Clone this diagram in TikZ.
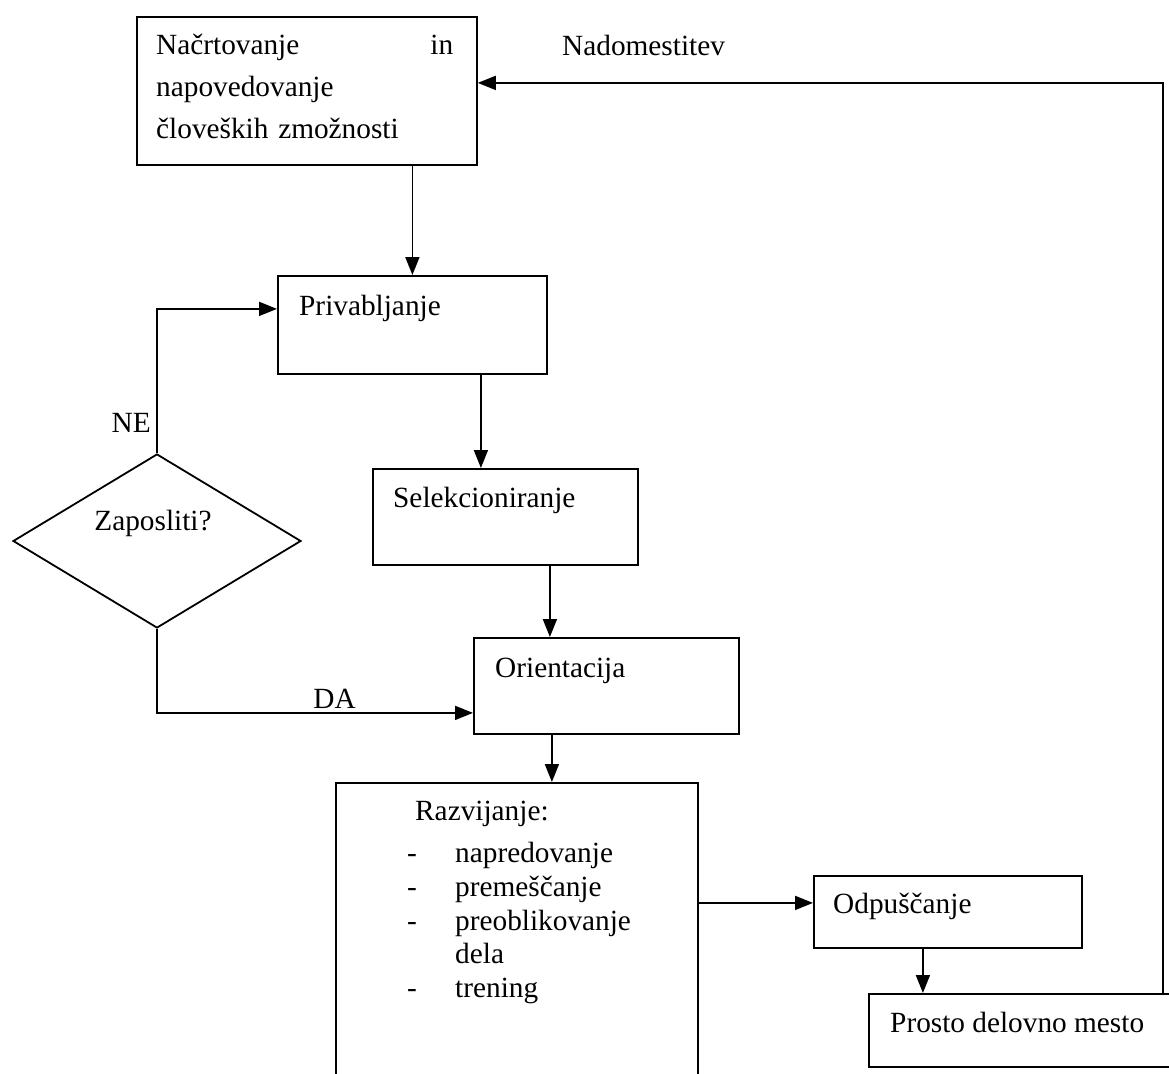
\documentclass[tikz,border=0pt]{standalone}
\usepackage{fontspec}
\setmainfont{Liberation Serif}
\usetikzlibrary{arrows.meta}
\usetikzlibrary{shapes.geometric}
\tikzset{box/.style = {draw, line width = 1.8pt, anchor = north west, inner sep = 0}}
\tikzset{txt/.style = {anchor = base west, inner sep = 0}}
\tikzset{arr/.style = {line width = 1.8pt, -{Triangle[length = 18pt, width = 14pt]}}}

\begin{document}
\begin{tikzpicture}[x = 1pt, y = -1pt, font = \fontsize{29.3}{42}\selectfont]

      \useasboundingbox (0, 0) rectangle (1169, 1073);
      \clip (0, 0) rectangle (1169, 1073);

      % boxes
      \node [box, minimum width = 340, minimum height = 148] (plan) at (136, 16) {};
      \node [box, minimum width = 269, minimum height = 98] (priv) at (277, 275) {};
      \node [box, minimum width = 265, minimum height = 96] (sel) at (372, 468) {};
      \node [box, minimum width = 265, minimum height = 96] (orient) at (473, 637) {};
      \node [box, minimum width = 362, minimum height = 330] (razv) at (335, 782) {};
      \node [box, minimum width = 268, minimum height = 72] (odp) at (813, 875) {};
      \node [box, minimum width = 304, minimum height = 73] (prosto) at (868, 993) {};
      \node [draw, diamond, aspect = 1.655, minimum width = 288, minimum height = 174,
             inner sep = 0, line width = 1.8pt] (hire) at (157, 541) {};

      % texts
      \node [txt, text width = 297, align = left] (plantext) at (156, 55)
            {Načrtovanje\hfill in\\napovedovanje\\človeških zmožnosti};
      \node [txt] (privtext) at (299, 315) {Privabljanje};
      \node [txt] (seltext) at (393, 507) {Selekcioniranje};
      \node [txt] (orienttext) at (495, 677) {Orientacija};
      \node [txt] (razvtext) at (415, 820) {Razvijanje:};
      \node [txt] (odptext) at (833, 913) {Odpuščanje};
      \node [txt] (prostotext) at (890, 1032) {Prosto delovno mesto};
      \node [anchor = base, inner sep = 0] (hiretext) at (153, 530) {Zaposliti?};
      \foreach \yy [count = \i] in {862, 896, 930, 997}
        \node [txt] (dash\i) at (407, \yy) {-};
      \foreach \yy/\item [count = \i] in {862/napredovanje, 896/premeščanje,
                                          930/preoblikovanje, 963/dela, 997/trening}
        \node [txt] (item\i) at (455, \yy) {\item};

      % connectors
      \draw [arr] (priv.north |- plan.south) -- (priv.north);
      \draw [arr] ([xshift = 68.5]priv.south) coordinate (ps) -- (ps |- sel.north);
      \draw [arr] ([xshift = 44.5]sel.south) coordinate (ss) -- (ss |- orient.north);
      \draw [arr] ([xshift = -54.5]orient.south) coordinate (os) -- (os |- razv.north);
      \coordinate (ow) at ([yshift = 9]odp.west);
      \draw [arr] (razv.east |- ow) -- (ow);
      \draw [arr] ([xshift = -25]odp.south) coordinate (ds) -- (ds |- prosto.north);
      \draw [arr] ([xshift = -11]prosto.north east) |- ([yshift = 8]plan.east)
            node [pos = 0.879, anchor = base, yshift = 27] (nadtext) {Nadomestitev};
      \draw [arr] (hire.north) |- ([yshift = 16]priv.west);
      \node [anchor = base east, inner sep = 0] (netext) at ([xshift = -6, yshift = 21]hire.north) {NE};
      \draw [arr] (hire.south) |- ([yshift = -27]orient.west)
            node [pos = 0.781, anchor = base, yshift = 4] (datext) {DA};

    \end{tikzpicture}
\end{document}
